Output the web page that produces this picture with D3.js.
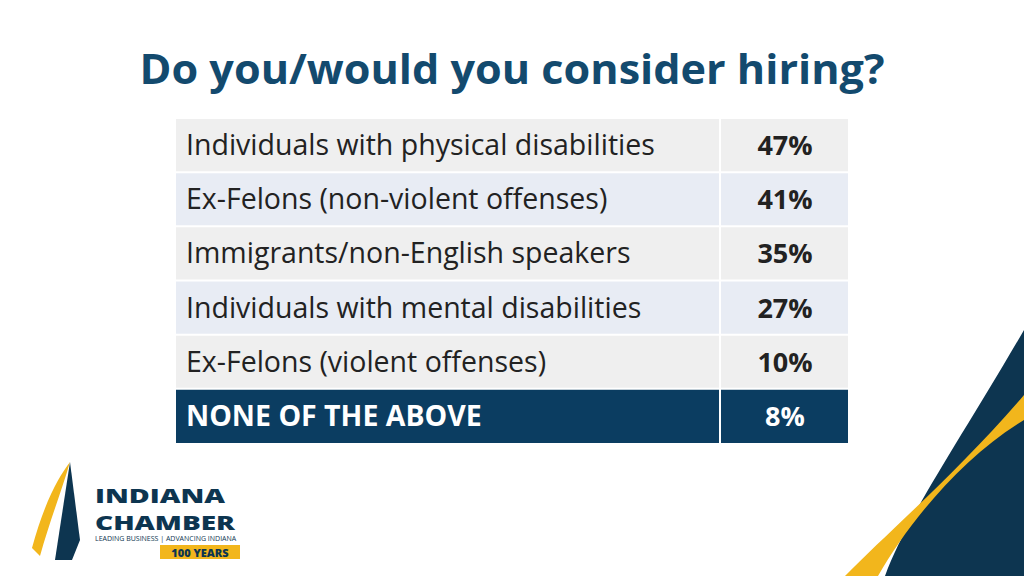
<!DOCTYPE html>
<html><head><meta charset="utf-8">
<script src="https://cdn.jsdelivr.net/npm/d3@7"></script>
<style>body{margin:0;background:#fff}svg{display:block}</style></head>
<body><svg id="c" width="1024" height="576"></svg>
<script>
const categories=["Individuals with physical disabilities","Ex-Felons (non-violent offenses)","Immigrants/non-English speakers","Individuals with mental disabilities","Ex-Felons (violent offenses)","NONE OF THE ABOVE"];
const values=[47,41,35,27,10,8];
const title="Do you/would you consider hiring?";
const svg=d3.select("#c");
const F="'Open Sans', sans-serif";
svg.append("path").attr("d","M1024,330 C960,440 905,520 885,576 L1024,576 Z").attr("fill","#0d3550");
svg.append("path").attr("d","M1024,395 C960,470 885,535 845,576 L878,576 C910,520 965,455 1024,420 Z").attr("fill","#f2b61c");
svg.append("text").attr("x",512).attr("y",84).attr("text-anchor","middle").attr("font-family",F).attr("font-weight",700).attr("font-size",42).attr("fill","#134a6e").attr("textLength",745).attr("lengthAdjust","spacingAndGlyphs").text(title);
const y=d3.scaleBand().domain(categories).range([118,443]);
const x0=176,xd=720,x1=848;
const g=svg.selectAll("g.r").data(categories).join("g");
g.each(function(c,i){
  const s=d3.select(this),last=i===categories.length-1;
  const bg=last?"#0b3d61":(i%2===0?"#efefef":"#e8ecf4");
  const yy=y(c),h=y.bandwidth();
  s.append("rect").attr("x",x0).attr("y",yy).attr("width",x1-x0).attr("height",h).attr("fill",bg);
  s.append("line").attr("x1",x0).attr("x2",x1).attr("y1",yy).attr("y2",yy).attr("stroke","#fff").attr("stroke-width",2);
  s.append("line").attr("x1",xd).attr("x2",xd).attr("y1",yy).attr("y2",yy+h).attr("stroke","#fff").attr("stroke-width",2);
  s.append("text").attr("x",186).attr("y",yy+h/2+10).attr("font-family",F).attr("font-size",28.5).attr("font-weight",last?700:400).attr("fill",last?"#fff":"#222").text(c);
  s.append("text").attr("x",785).attr("y",yy+h/2+10).attr("text-anchor","middle").attr("font-family",F).attr("font-size",27).attr("font-weight",700).attr("fill",last?"#fff":"#222").text(values[i]+"%");
});
const L=svg.append("g");
L.append("path").attr("d","M70,462 L80,540 L72,560 L55,560 Z").attr("fill","#0d3550");
L.append("path").attr("d","M32,548 C45,500 60,475 70,462 C62,490 50,520 40,556 Z").attr("fill","#f2b61c");
L.append("text").attr("x",95).attr("y",503).attr("font-family",F).attr("font-weight",800).attr("font-size",19).attr("fill","#0d3550").attr("textLength",130).attr("lengthAdjust","spacingAndGlyphs").text("INDIANA");
L.append("text").attr("x",95).attr("y",530).attr("font-family",F).attr("font-weight",800).attr("font-size",19).attr("fill","#0d3550").attr("textLength",140).attr("lengthAdjust","spacingAndGlyphs").text("CHAMBER");
L.append("text").attr("x",95).attr("y",541).attr("font-family",F).attr("font-size",7).attr("fill","#0d3550").text("LEADING BUSINESS | ADVANCING INDIANA");
L.append("rect").attr("x",160).attr("y",545).attr("width",80).attr("height",14).attr("fill","#f2b61c");
L.append("text").attr("x",200).attr("y",557).attr("text-anchor","middle").attr("font-family",F).attr("font-weight",800).attr("font-size",11).attr("fill","#0d3550").text("100 YEARS");
</script></body></html>
